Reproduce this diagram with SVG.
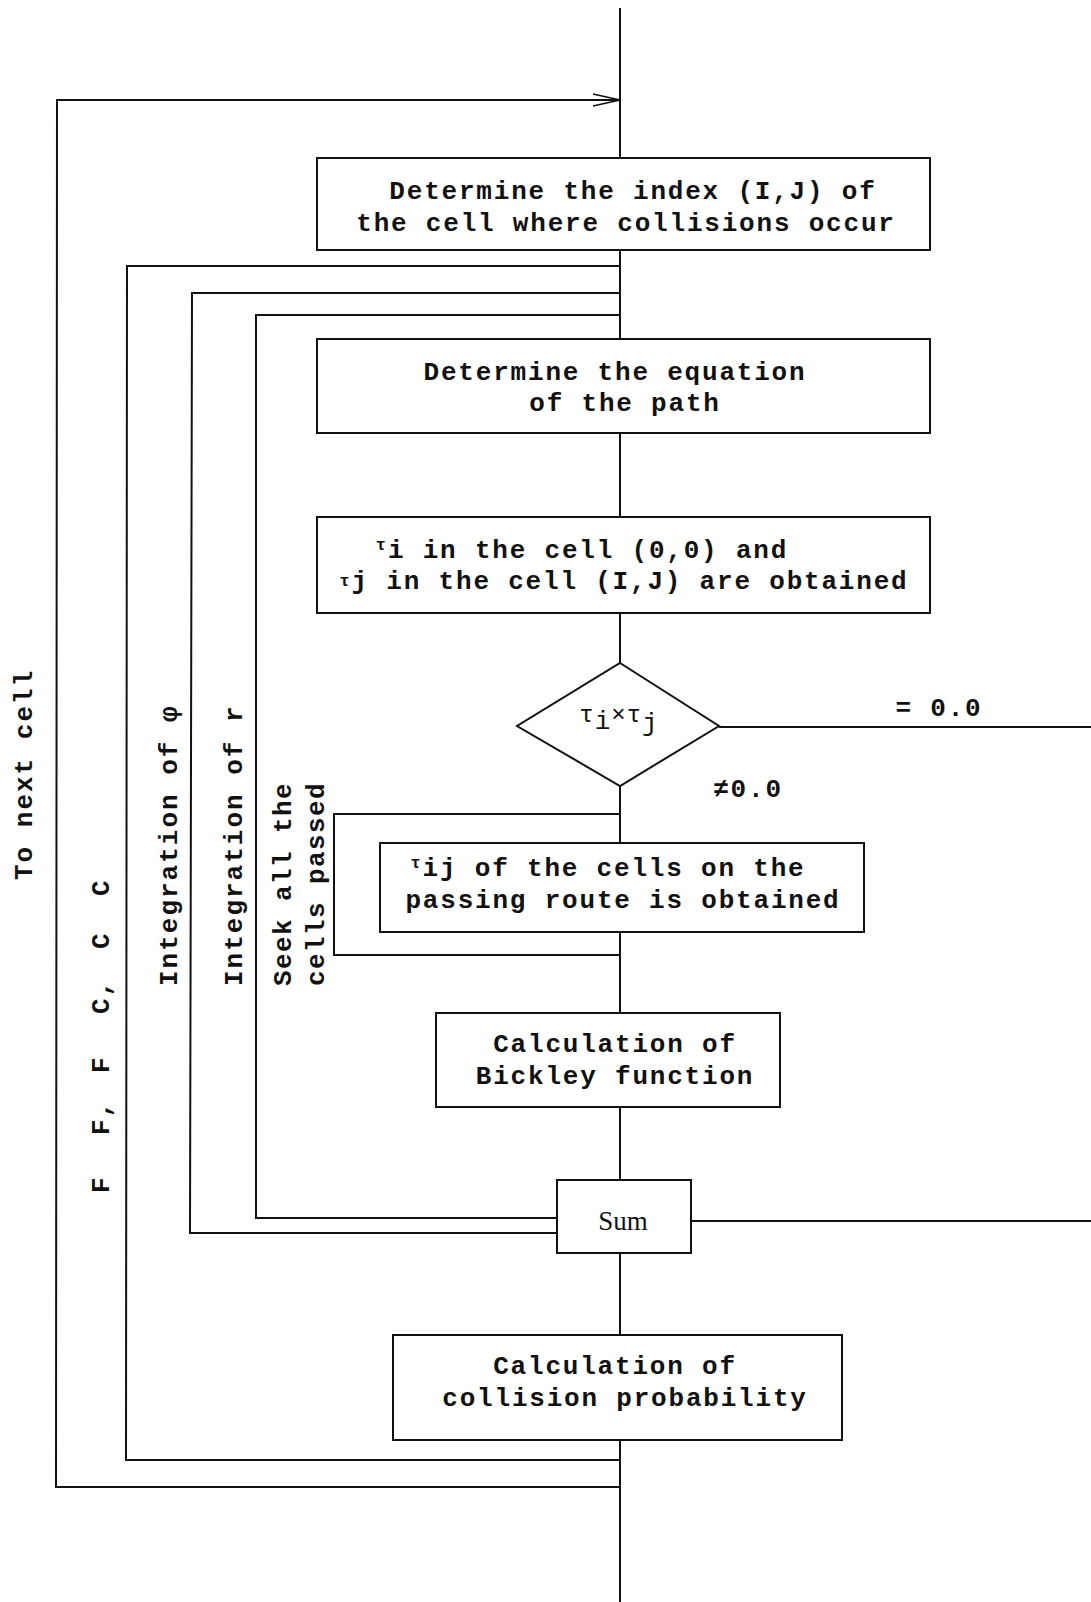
<svg xmlns="http://www.w3.org/2000/svg" width="1091" height="1602" viewBox="0 0 1091 1602">
<style>
.ln{fill:none;stroke:#111;stroke-width:2}
.bx{fill:#fff;stroke:#111;stroke-width:2}
.t{font-family:"Liberation Mono","Courier New",monospace;font-size:26px;letter-spacing:1.8px;fill:#111;text-anchor:middle;font-weight:bold}
.v{font-family:"Liberation Mono","Courier New",monospace;font-size:26px;letter-spacing:2px;fill:#111;font-weight:bold}
.s{font-family:"Liberation Serif","Times New Roman",serif;font-size:27px;fill:#111;text-anchor:middle}
.sup{font-size:17px}
</style>
<defs>
<marker id="arr" markerWidth="30" markerHeight="14" refX="28" refY="7" orient="auto" markerUnits="userSpaceOnUse">
<path d="M1,1 L28,7 L1,13" fill="none" stroke="#111" stroke-width="1.6"/>
</marker>
</defs>
<rect width="1091" height="1602" fill="#fff"/>
<g id="connectors">
<line class="ln" x1="620" y1="8" x2="620" y2="1602"/>
<polyline class="ln" points="620,1487 56,1487 57,100 620,100" marker-end="url(#arr)"/>
<polyline class="ln" points="620,1460 126,1460 127,266 620,266"/>
<polyline class="ln" points="557,1233 190,1233 192,293 620,293"/>
<polyline class="ln" points="557,1218 256,1218 256,315 620,315"/>
<polyline class="ln" points="620,955 334,955 334,814 620,814"/>
<line class="ln" x1="719" y1="727" x2="1091" y2="727"/>
<line class="ln" x1="691" y1="1221" x2="1091" y2="1221"/>
</g>
<g id="node-index">
<rect class="bx" x="317" y="158" width="613" height="92"/>
<text class="t" x="633" y="199">Determine the index (I,J) of</text>
<text class="t" x="626" y="231">the cell where collisions occur</text>
</g>
<g id="node-equation">
<rect class="bx" x="317" y="339" width="613" height="94"/>
<text class="t" x="615" y="380">Determine the equation</text>
<text class="t" x="625" y="411">of the path</text>
</g>
<g id="node-tau">
<rect class="bx" x="317" y="517" width="613" height="96"/>
<text class="t" x="582" y="558"><tspan class="sup" dy="-8">τ</tspan><tspan dy="8">i in the cell (0,0) and</tspan></text>
<text class="t" x="624" y="589"><tspan class="sup" dy="-3">τ</tspan><tspan dy="3">j in the cell (I,J) are obtained</tspan></text>
</g>
<g id="node-decision">
<polygon class="bx" points="620,663 719,726 620,786 517,726"/>
<text class="t" x="619" y="722" style="letter-spacing:1px;font-weight:normal"><tspan style="font-size:24px">τ</tspan><tspan dy="7" style="font-size:26px">i</tspan><tspan dy="-7" style="font-size:24px">×τ</tspan><tspan dy="9" style="font-size:26px">j</tspan></text>
<text class="t" x="939" y="716">= 0.0</text>
<text class="t" x="748" y="797">≠0.0</text>
</g>
<g id="node-tauij">
<rect class="bx" x="380" y="843" width="484" height="89"/>
<text class="t" x="608" y="876"><tspan class="sup" dy="-8">τ</tspan><tspan dy="8">ij of the cells on the</tspan></text>
<text class="t" x="623" y="908">passing route is obtained</text>
</g>
<g id="node-bickley">
<rect class="bx" x="436" y="1013" width="344" height="94"/>
<text class="t" x="615" y="1052">Calculation of</text>
<text class="t" x="615" y="1084">Bickley function</text>
</g>
<g id="node-sum">
<rect class="bx" x="557" y="1180" width="134" height="73"/>
<text class="s" x="623" y="1230">Sum</text>
</g>
<g id="node-collision">
<rect class="bx" x="393" y="1335" width="449" height="105"/>
<text class="t" x="615" y="1374">Calculation of</text>
<text class="t" x="625" y="1406">collision probability</text>
</g>
<g id="labels">
<text class="v" transform="translate(32,880) rotate(-90)">To next cell</text>
<text class="v" transform="translate(109,0) rotate(-90)"><tspan x="-1193">F</tspan><tspan x="-1135">F,</tspan><tspan x="-1073">F</tspan><tspan x="-1014">C,</tspan><tspan x="-949">C</tspan><tspan x="-896">C</tspan></text>
<text class="v" transform="translate(177,986) rotate(-90)">Integration of φ</text>
<text class="v" transform="translate(242,986) rotate(-90)">Integration of r</text>
<text class="v" transform="translate(291,986) rotate(-90)" style="letter-spacing:1.4px">Seek all the</text>
<text class="v" transform="translate(324,986) rotate(-90)" style="letter-spacing:1.4px">cells passed</text>
</g>
</svg>
